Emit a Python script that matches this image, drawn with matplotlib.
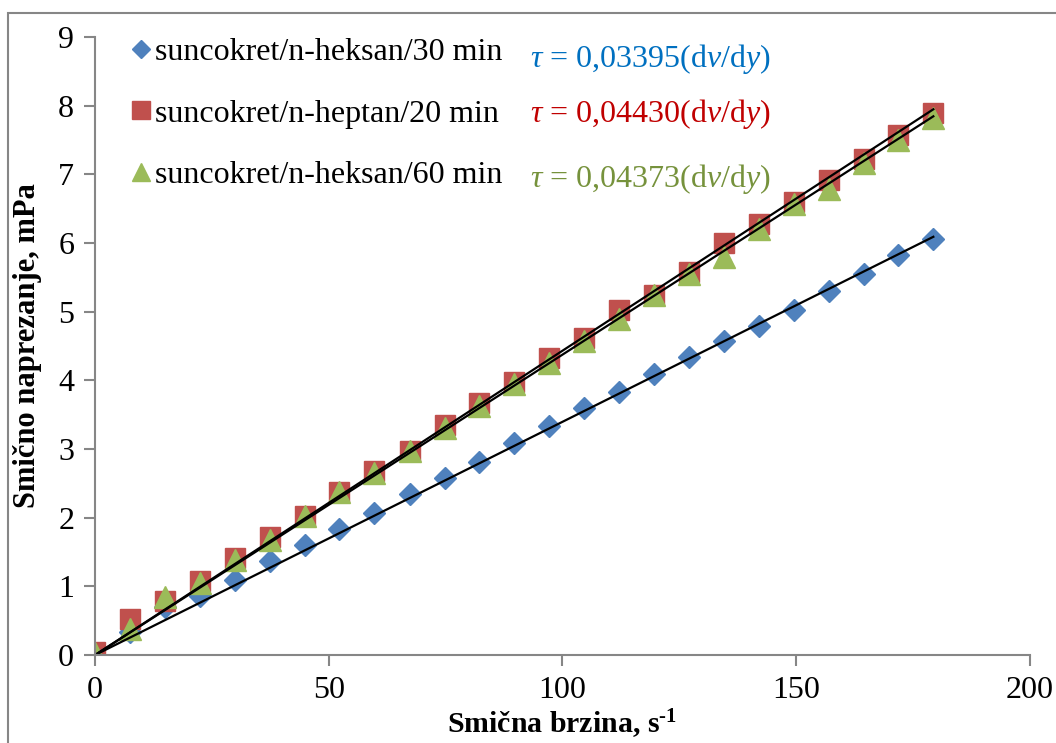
import matplotlib
matplotlib.use('Agg')
import matplotlib.pyplot as plt
from matplotlib.patches import Rectangle

plt.rcParams['font.family'] = ['Liberation Serif', 'DejaVu Serif']
plt.rcParams['mathtext.fontset'] = 'custom'
plt.rcParams['mathtext.rm'] = 'Liberation Serif'
plt.rcParams['mathtext.it'] = 'Liberation Serif:italic'
plt.rcParams['mathtext.bf'] = 'Liberation Serif:bold'

# shear rate (s^-1)
shear_rate = [0, 7.5, 15.0, 22.4, 29.9, 37.4, 44.9, 52.3, 59.8, 67.3, 74.8, 82.2,
              89.7, 97.2, 104.7, 112.1, 119.6, 127.1, 134.6, 142.0, 149.5,
              157.0, 164.5, 171.9, 179.4]

# shear stress (mPa)
heksan_30 = [0.0, 0.33, 0.70, 0.86, 1.09, 1.37, 1.60, 1.83, 2.07, 2.34, 2.58, 2.81,
             3.09, 3.33, 3.60, 3.83, 4.09, 4.34, 4.57, 4.79, 5.02, 5.30, 5.55,
             5.82, 6.06]
heptan_20 = [0.05, 0.52, 0.78, 1.08, 1.42, 1.72, 2.02, 2.37, 2.68, 2.97, 3.35, 3.67,
             3.98, 4.32, 4.62, 5.02, 5.25, 5.58, 6.00, 6.28, 6.60, 6.92, 7.22,
             7.57, 7.90]
heksan_60 = [0.03, 0.38, 0.85, 1.05, 1.38, 1.67, 2.02, 2.38, 2.65, 2.97, 3.30, 3.63,
             3.95, 4.25, 4.58, 4.90, 5.25, 5.55, 5.80, 6.20, 6.57, 6.78, 7.17,
             7.50, 7.82]

labels = ['suncokret/n-heksan/30 min', 'suncokret/n-heptan/20 min',
          'suncokret/n-heksan/60 min']
slopes = [0.03395, 0.04430, 0.04373]

fig = plt.figure(figsize=(10.56, 7.43), dpi=100)
# chart area border
fig.patches.append(Rectangle((8 / 1056, -0.05), 1.2, 1 - 13 / 743 + 0.05,
                             transform=fig.transFigure, fill=False,
                             edgecolor='#868686', linewidth=1.5))
ax = fig.add_axes([0.090, 0.1184, 0.885, 0.8318])

ax.plot(shear_rate, heksan_30, 'D', color='#4F81BD', markersize=11, label=labels[0])
ax.plot(shear_rate, heptan_20, 's', color='#C0504D', markersize=15, label=labels[1])
ax.plot(shear_rate, heksan_60, '^', color='#9BBB59', markersize=16, label=labels[2])

# linear trendlines through origin
for k in slopes:
    ax.plot([0, shear_rate[-1]], [0, k * shear_rate[-1]], color='black', linewidth=1.6)

ax.set_xlim(0, 200)
ax.set_ylim(0, 9)
ax.set_xticks([0, 50, 100, 150, 200])
ax.set_yticks(range(10))
for side in ['top', 'right']:
    ax.spines[side].set_visible(False)
for side in ['left', 'bottom']:
    ax.spines[side].set_color('#868686')
    ax.spines[side].set_linewidth(1.5)
ax.tick_params(direction='out', length=8, width=1.5, color='#868686',
               labelsize=23, pad=7)

ax.set_xlabel('Smična brzina, s$^{\\mathbf{\u20101}}$', fontsize=21.5,
              fontweight='bold', labelpad=2)
ax.set_ylabel('Smično naprezanje, mPa', fontsize=22, fontweight='bold', labelpad=12)

leg = ax.legend(loc='upper left', bbox_to_anchor=(0.003, 1.045), frameon=False,
                fontsize=23, handletextpad=0.0, handlelength=0.9,
                labelspacing=1.0, markerscale=0.85)

eq_colors = ['#0070C0', '#C00000', '#76923C']
eq_y = [8.68, 7.88, 6.93]
for k, c, y in zip(slopes, eq_colors, eq_y):
    s = ('%.5f' % k).replace('.', ',')
    ax.text(93, y, r'$\tau$ = ' + s + r'(d$v$/d$y$)', color=c, fontsize=23,
            ha='left', va='center')

fig.savefig('out.png', dpi=100)
